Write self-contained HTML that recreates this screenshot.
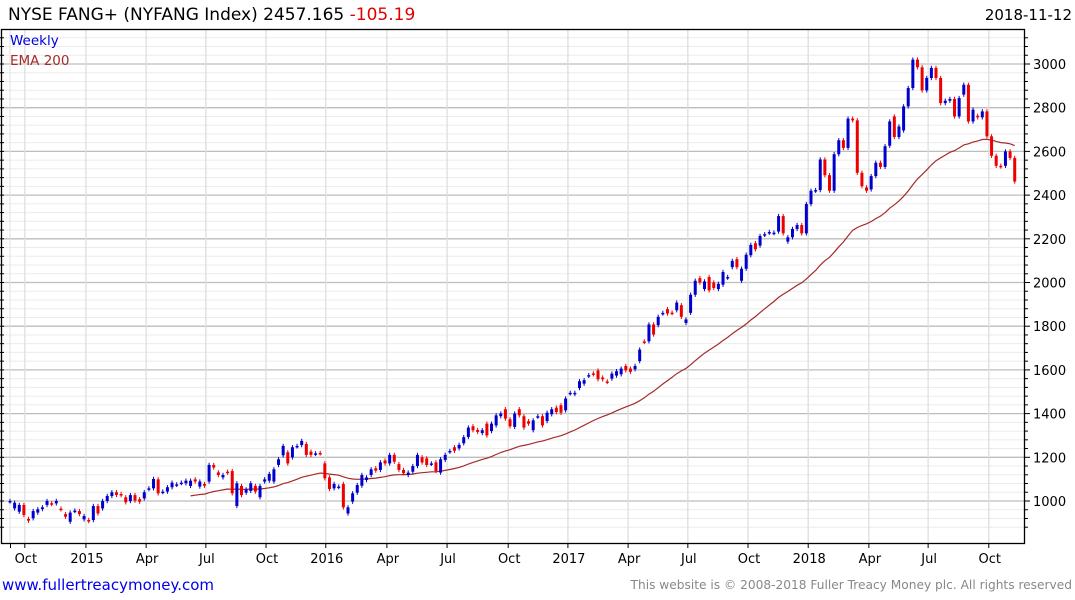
<!DOCTYPE html>
<html><head><meta charset="utf-8">
<style>
html,body{margin:0;padding:0;background:#fff;}
svg{display:block;font-family:"DejaVu Sans","Liberation Sans",sans-serif;}
</style></head>
<body>
<svg id="chart" width="1075" height="600" viewBox="0 0 1075 600">
<text x="8" y="20" font-size="17" fill="#000">NYSE FANG+ (NYFANG Index) 2457.165 <tspan fill="#e00000">-105.19</tspan></text>
<text x="1072" y="20" font-size="15" text-anchor="end" fill="#000">2018-11-12</text>
<g id="grid"></g>
<g id="ema"></g>
<g id="candles"></g>
<rect x="1.5" y="29.5" width="1023" height="514" fill="none" stroke="#000" stroke-width="1.3"/>
<g id="axes"></g>
<text x="10" y="45" font-size="13.5" fill="#0000dd">Weekly</text>
<text x="10" y="65" font-size="13.5" fill="#a52a2a">EMA 200</text>
<text x="2" y="590" font-size="15" fill="#0000ee">www.fullertreacymoney.com</text>
<text x="1072" y="589" font-size="12.2" text-anchor="end" fill="#888">This website is © 2008-2018 Fuller Treacy Money plc. All rights reserved</text>
</svg>
<script>
const opens=[998,966,951,982,918,921,947,963,982,990,989,965,940,905,954,954,916,913,913,977,966,1000,1023,1040,1032,1017,1000,1027,1008,1012,1055,1058,1099,1041,1043,1063,1074,1082,1081,1069,1099,1066,1078,1089,1165,1131,1108,1134,1137,977,
1069,1038,1046,1069,1017,1089,1093,1089,1165,1209,1223,1200,1250,1256,1261,1226,1216,1220,1172,1108,1058,1064,1078,943,997,1038,1070,1096,1119,1150,1142,1185,1172,1211,1169,1142,1119,1134,1160,1200,1195,1170,1177,1130,1188,1226,1246,1241,1264,
1293,1342,1325,1311,1354,1320,1346,1388,1420,1374,1339,1420,1388,1365,1324,1386,1388,1366,1397,1427,1438,1415,1493,1490,1517,1537,1573,1584,1597,1565,1547,1560,1574,1580,1618,1606,1603,1640,1730,1731,1808,1805,1858,1878,1862,1873,1896,1815,
1861,1944,2020,1970,2025,2000,1970,1990,2022,2070,2107,2008,2063,2125,2180,2169,2218,2228,2226,2233,2304,2187,2207,2245,2263,2225,2359,2420,2423,2563,2491,2420,2587,2651,2616,2750,2742,2502,2435,2426,2487,2548,2529,
2626,2760,2666,2696,2806,2890,3020,2985,2879,2936,2982,2936,2821,2832,2840,2760,2860,2905,2737,2763,2756,2783,2669,2580,2534,2534,2600,2570];
const closes=[1000,992,982,936,910,954,962,971,1000,986,1000,962,928,947,956,940,931,908,977,943,1000,1023,1040,1028,1027,994,1027,1002,997,1040,1058,1101,1035,1043,1063,1084,1076,1084,1093,1093,1089,1089,1070,1165,1153,1119,1119,1130,1035,1081,
1027,1053,1081,1043,1069,1099,1124,1145,1191,1252,1172,1246,1252,1275,1211,1211,1218,1218,1104,1055,1078,1066,971,971,1035,1073,1119,1108,1145,1139,1177,1172,1211,1180,1142,1127,1130,1160,1211,1176,1165,1172,1137,1191,1211,1229,1230,1257,1292,
1336,1324,1316,1324,1300,1354,1392,1400,1377,1342,1400,1392,1336,1354,1369,1388,1346,1404,1420,1407,1404,1469,1495,1495,1548,1553,1576,1580,1557,1557,1545,1583,1594,1606,1598,1591,1618,1693,1728,1808,1762,1843,1861,1858,1860,1908,1843,1831,
1944,2008,2000,2005,1964,1975,1994,2048,2025,2099,2070,2063,2127,2172,2152,2213,2221,2231,2228,2304,2225,2207,2245,2263,2225,2359,2420,2423,2563,2491,2420,2587,2651,2616,2750,2742,2502,2441,2420,2487,2548,2529,2624,
2737,2666,2714,2806,2890,3020,2985,2879,2936,2982,2936,2821,2832,2840,2760,2844,2905,2737,2791,2756,2783,2669,2580,2534,2531,2600,2570,2462];
const yTicks=[2400,2600,2800,3000,1000,1200,1400,1600,1800,2000,2200];
const xTickLabels=["Oct","2015","Apr","Jul","Oct","2016","Apr","Jul","Oct","2017","Apr","Jul","Oct","2018","Apr","Jul","Oct"];
const xTickWeeks=[3.2,16.4,29.4,42.3,55.3,68.2,81.4,94.4,107.6,120.5,133.5,146.4,159.4,172.4,185.5,198.3,211.4];
const emaPeriod=40;
const emaStart=39;

const NS="http://www.w3.org/2000/svg";
const X0=10, STEP=4.63, Y1000=501, PXU=0.2185, TOP=30, BOT=543;
function xOf(i){return X0+i*STEP;}
function yOf(v){return Y1000-(v-1000)*PXU;}
function mk(tag,attrs,parent){const e=document.createElementNS(NS,tag);for(const k in attrs)e.setAttribute(k,attrs[k]);parent.appendChild(e);return e;}
const grid=document.getElementById('grid'),axes=document.getElementById('axes'),cg=document.getElementById('candles'),eg=document.getElementById('ema');

for(let v=880;v<=3120;v+=40){
  const y=yOf(v); if(y<TOP||y>BOT)continue;
  const major=(v%200===0);
  const l=mk('line',{x1:2,x2:1025,y1:y,y2:y,stroke:major?'#bdbdbd':'#ebebeb','stroke-width':major?1.3:1},grid);
  
  
  const t=mk('line',{x1:1025,x2:major?1030:1028,y1:y,y2:y,stroke:'#000','stroke-width':1},axes);
  
  
  const t2=mk('line',{x1:0,x2:4,y1:y,y2:y,stroke:'#000','stroke-width':1},axes);
  
  
}
yTicks.forEach(v=>{
  const t=mk('text',{x:1033,y:yOf(v)+5,'font-size':13,fill:'#000'},axes);
  t.textContent=String(v);
  
  
});
const vl=mk('line',{x1:10,x2:10,y1:TOP,y2:BOT,stroke:'#e2e2e2','stroke-width':1},grid);


xTickWeeks.forEach((w,k)=>{
  const x=xOf(w);
  const g=mk('line',{x1:x,x2:x,y1:TOP,y2:BOT,stroke:'#dedede','stroke-width':1.3},grid);
  
  
  const tk=mk('line',{x1:x,x2:x,y1:BOT,y2:BOT+5,stroke:'#000','stroke-width':1},axes);
  
  
  const t=mk('text',{x:x+1,y:563,'font-size':13,'text-anchor':'middle',fill:'#000'},axes);
  t.textContent=xTickLabels[k];
  
  
});
const tk0=mk('line',{x1:10.5,x2:10.5,y1:BOT,y2:BOT+5,stroke:'#000','stroke-width':1},axes);



let ema=closes[0];const pts=[];
closes.forEach((c,i)=>{ema=ema+(c-ema)*2/(emaPeriod+1);if(i>=emaStart)pts.push(xOf(i).toFixed(1)+','+yOf(ema).toFixed(1));});
const pl=mk('polyline',{points:pts.join(' '),fill:'none',stroke:'#a52a2a','stroke-width':1.2},eg);



closes.forEach((c,i)=>{
  const o=opens[i];const up=c>=o;const col=up?'#0000cc':'#ee0000';
  const x=xOf(i);const hi=Math.max(o,c)+10,lo=Math.min(o,c)-10;
  const w=mk('line',{x1:x,x2:x,y1:yOf(hi),y2:yOf(lo),stroke:col,'stroke-width':1},cg);
  
  
  const yt=yOf(Math.max(o,c)),yb=yOf(Math.min(o,c));
  const b=mk('rect',{x:x-1.5,y:yt,width:3,height:Math.max(1.5,yb-yt),fill:col},cg);
  
  
});
</script>
</body></html>
